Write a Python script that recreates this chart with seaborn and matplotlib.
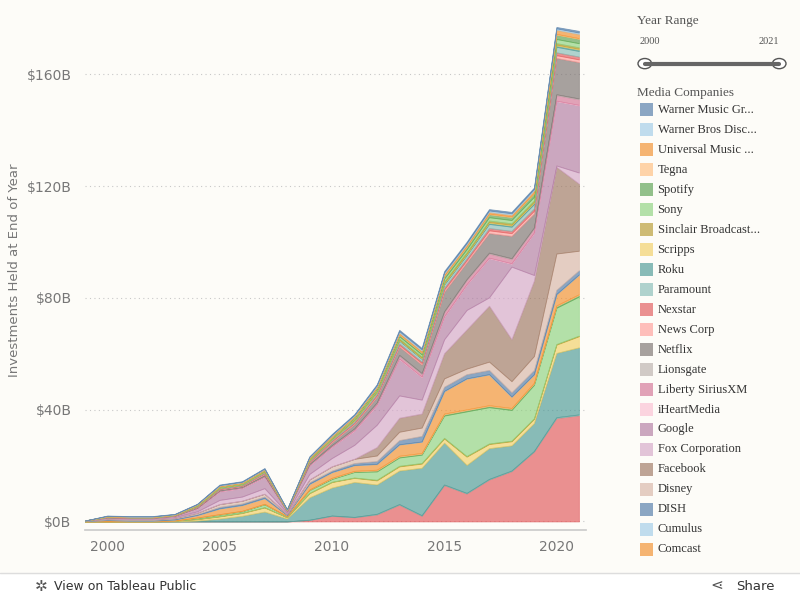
import matplotlib
matplotlib.use("Agg")
import matplotlib.pyplot as plt
import seaborn as sns
import numpy as np
from matplotlib.patches import Rectangle

years = list(range(1999, 2022))
companies = ["Warner Music Gr...", "Warner Bros Disc...", "Universal Music ...", "Tegna", "Spotify",
             "Sony", "Sinclair Broadcast...", "Scripps", "Roku", "Paramount", "Nexstar", "News Corp",
             "Netflix", "Lionsgate", "Liberty SiriusXM", "iHeartMedia", "Google", "Fox Corporation",
             "Facebook", "Disney", "DISH", "Cumulus", "Comcast",
             "Charter", "CBS", "Audacy", "AT&T", "Apple", "AMC", "Amazon", "Altice"]
values = {
 "Warner Music Gr...":  [0,0.1,0.1,0.1,0.1,0.1,0.2,0.2,0.2,0.1,0.2,0.3,0.3,0.4,0.5,0.5,0.5,0.5,0.5,0.5,0.5,0.5,0.6],
 "Warner Bros Disc...": [0,0.1,0.1,0.1,0.1,0.1,0.2,0.2,0.2,0.1,0.2,0.3,0.3,0.4,0.5,0.5,0.5,0.5,0.5,0.5,0.5,0.5,0.5],
 "Universal Music ...": [0,0.1,0.1,0.1,0.1,0.1,0.2,0.2,0.2,0.1,0.3,0.3,0.3,0.4,0.5,0.5,0.6,0.6,0.6,0.6,0.8,1.5,1.5],
 "Tegna":               [0,0,0,0,0,0.1,0.1,0.1,0.1,0,0.1,0.2,0.2,0.2,0.3,0.3,0.3,0.3,0.3,0.3,0.3,0.3,0.3],
 "Spotify":             [0,0,0,0,0,0,0,0,0,0,0,0,0.2,0.3,0.5,0.5,0.8,0.8,1,1,1.2,1.5,1.5],
 "Sony":                [0,0.1,0.1,0.1,0.1,0.2,0.3,0.3,0.3,0.1,0.3,0.4,0.5,0.6,0.8,0.8,1,1,1.2,1.2,1.3,1.5,1.5],
 "Sinclair Broadcast...":[0,0,0,0,0,0.1,0.1,0.1,0.2,0,0.2,0.2,0.3,0.3,0.4,0.4,0.5,0.5,0.5,0.5,0.5,0.5,0.5],
 "Scripps":             [0,0,0,0,0,0.1,0.1,0.1,0.1,0,0.1,0.1,0.2,0.2,0.2,0.2,0.3,0.3,0.3,0.3,0.3,0.3,0.3],
 "Roku":                [0,0,0,0,0,0,0,0,0,0,0,0,0,0,0.2,0.2,0.3,0.3,0.4,0.4,0.5,0.5,0.5],
 "Paramount":           [0,0.1,0.1,0.1,0.1,0.2,0.3,0.3,0.4,0.1,0.4,0.5,0.6,0.8,1,1,1.2,1.2,1.5,1.5,1.6,2,2],
 "Nexstar":             [0,0,0,0,0,0.1,0.1,0.1,0.2,0,0.2,0.3,0.3,0.4,0.5,0.5,0.6,0.6,0.8,0.8,0.8,1,1],
 "News Corp":           [0,0.1,0.1,0.1,0.1,0.1,0.2,0.2,0.3,0.1,0.3,0.4,0.4,0.5,0.6,0.6,0.8,0.8,1,1,1,1,1],
 "Netflix":             [0,0.1,0.1,0.1,0.1,0.2,0.3,0.3,0.5,0.1,0.5,1,1.5,2,3,3,7,6,7,8,5,13,13],
 "Lionsgate":           [0,0,0,0,0,0.1,0.1,0.1,0.1,0,0.1,0.1,0.2,0.2,0.3,0.3,0.3,0.3,0.3,0.3,0.3,0.3,0.3],
 "Liberty SiriusXM":    [0,0,0,0,0.1,0.1,0.2,0.2,0.3,0.1,0.3,0.4,0.5,0.6,1,1,1.5,1.5,1.5,1.5,1.5,2,2],
 "iHeartMedia":         [0,0,0,0,0,0.1,0.1,0.1,0.1,0,0.1,0.1,0.2,0.2,0.2,0.2,0.2,0.2,0.2,0.2,0.2,0.2,0.2],
 "Google":              [0,0.2,0.2,0.2,0.3,1,3,3,4,0.5,3,4,5,7,13,8,8,9,14,1,15,23,24],
 "Fox Corporation":     [0,0.2,0.2,0.2,0.3,0.5,1.5,1.5,2,0.3,2,3,5,8,8,5,5,7,3,26,2,0.5,4],
 "Facebook":            [0,0,0,0,0,0,0,0,0,0,0,0,0,3,5,5,9,14,20,15,27,31,24],
 "Disney":              [0.1,0.3,0.3,0.3,0.3,0.5,1,1,1,0.3,1,1.5,1.5,2,3,3,3,2,3,4,5,13,7],
 "DISH":                [0,0.2,0.2,0.2,0.3,0.3,0.5,0.5,0.5,0.2,0.5,0.5,0.7,1,1.5,2,1.5,1.5,1.5,1.5,1.5,1.5,1.5],
 "Cumulus":             [0,0,0,0,0,0.1,0.1,0.1,0.1,0,0.1,0.1,0.1,0.1,0.1,0.1,0.1,0.1,0.1,0.1,0.1,0.1,0.1],
 "Comcast":             [0.2,0.5,0.3,0.3,0.4,0.8,2,2,2,0.5,2,2,2,2,4,4,8,11,11,4,3,4,7],
 "Charter":             [0,0,0,0,0,0.1,0.1,0.1,0.1,0,0.1,0.2,0.2,0.3,0.3,0.3,0.3,0.3,0.3,0.3,0.3,0.3,0.3],
 "CBS":                 [0,0,0,0,0,0.1,0.1,0.1,0.1,0,0.1,0.2,0.2,0.3,0.3,0.3,0.4,0.4,0.4,0.4,0.4,0.5,0.5],
 "Audacy":              [0,0,0,0,0,0.3,0.5,0.5,1,0.3,1,1,2,3,3,3,8,16,13,11,12,13,14],
 "AT&T":                [0,0,0,0,0,0.1,0.1,0.1,0.1,0,0.1,0.1,0.1,0.2,0.2,0.2,0.2,0.2,0.2,0.2,0.2,0.2,0.2],
 "Apple":               [0,0,0,0,0.3,0.5,0.8,1,1.5,0.5,1.5,2,1.5,1.5,1.5,1.5,1.5,3,1.5,1.5,1.5,3,4],
 "AMC":                 [0,0,0,0,0,0.3,1,2,3.5,1,8,10,12.5,10.5,12,17,15,10,11,9,10,23,24],
 "Amazon":              [0,0,0,0,0,0,0,0,0,0,0.1,0.1,0.1,0.2,0.2,0.2,0.2,0.2,0.2,0.2,0.2,0.3,0.3],
 "Altice":              [0,0,0,0,0,0,0,0,0,0,0.5,2,1.5,2.5,6,2,13,10,15,18,25,37,38],
}
legend_shown = companies[:23]

sns.set_theme(style="white")
plt.rcParams['font.family'] = ['DejaVu Sans']
bg = "#fdfcf8"
tab20 = ["#4E79A7","#A0CBE8","#F28E2B","#FFBE7D","#59A14F","#8CD17D","#B6992D","#F1CE63",
         "#499894","#86BCB6","#E15759","#FF9D9A","#79706E","#BAB0AC","#D37295","#FABFD2",
         "#B07AA1","#D4A6C8","#9D7660","#D7B5A6"]
colors = {c: tab20[i % 20] for i, c in enumerate(companies)}

fig = plt.figure(figsize=(8, 6), dpi=100, facecolor="white")
fig.patches.append(Rectangle((0, 0.045), 1, 0.955, transform=fig.transFigure, color=bg, zorder=-10))
ax = fig.add_axes([0.106, 0.117, 0.626, 0.866])
ax.set_facecolor(bg)
ax.grid(axis="y", linestyle=(0, (1, 3)), color="#c8c8c8", linewidth=0.8)
ax.set_axisbelow(True)
order = companies[::-1]
ys = [values[c] for c in order]
polys = ax.stackplot(years, ys, colors=[colors[c] for c in order], alpha=0.65, linewidth=0.6)
for p, c in zip(polys, order):
    p.set_edgecolor(colors[c])
ax.set_xlim(1999, 2021.3)
ax.set_ylim(-3, 183)
ax.set_yticks([0, 40, 80, 120, 160])
ax.set_yticklabels(["$0B", "$40B", "$80B", "$120B", "$160B"], color="#777777", fontsize=10)
ax.set_xticks([2000, 2005, 2010, 2015, 2020])
ax.set_xticklabels(["2000", "2005", "2010", "2015", "2020"], color="#777777", fontsize=10)
ax.set_ylabel("Investments Held at End of Year", color="#777777", fontsize=9.5)
for s in ["top", "right", "left"]:
    ax.spines[s].set_visible(False)
ax.spines["bottom"].set_color("#cccccc")
ax.tick_params(axis="x", length=4, color="#cccccc")

ser = ['Liberation Serif', 'DejaVu Serif']
fig.text(0.796, 0.965, "Year Range", fontsize=9.5, color="#555555", family=ser, va="center")
fig.text(0.799, 0.93, "2000", fontsize=7.5, color="#555555", family=ser, va="center")
fig.text(0.974, 0.93, "2021", fontsize=7.5, color="#555555", family=ser, va="center", ha="right")
fig.add_artist(plt.Line2D([0.806, 0.974], [0.894, 0.894], transform=fig.transFigure, color="#666666", lw=3))
for xx in [0.806, 0.974]:
    fig.add_artist(plt.Circle((xx, 0.894), 0.0085, transform=fig.transFigure, facecolor="white", edgecolor="#555555", lw=1))

fig.text(0.796, 0.845, "Media Companies", fontsize=9.5, color="#555555", family=ser, va="center")
y0, dy = 0.817, 0.0333
for i, c in enumerate(legend_shown):
    y = y0 - i * dy
    fig.patches.append(Rectangle((0.8, y - 0.011), 0.016, 0.022, transform=fig.transFigure,
                                 facecolor=colors[c], alpha=0.65, edgecolor="none"))
    fig.text(0.822, y, c, fontsize=9, color="#333333", family=ser, va="center")

fig.text(0.068, 0.022, "View on Tableau Public", fontsize=9, color="#333333", va="center")
fig.text(0.043, 0.022, "✲", fontsize=11, color="#555555", va="center")
fig.text(0.92, 0.022, "Share", fontsize=9.5, color="#333333", va="center")
fig.text(0.888, 0.022, "⋖", fontsize=11, color="#555555", va="center")
fig.add_artist(plt.Line2D([0, 1], [0.045, 0.045], transform=fig.transFigure, color="#dddddd", lw=1))
fig.savefig("out.png", dpi=100, facecolor="white")
